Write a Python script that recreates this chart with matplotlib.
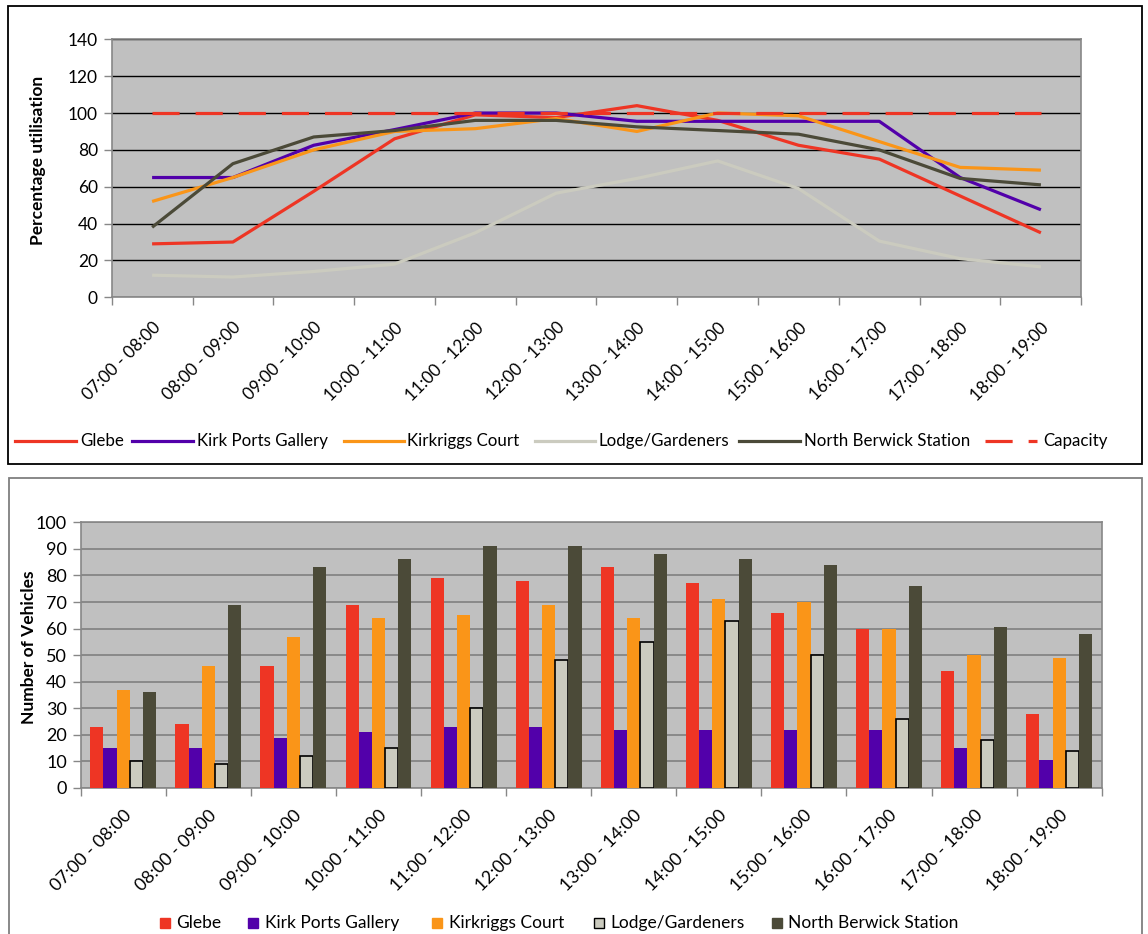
import matplotlib
matplotlib.use("Agg")
import matplotlib.pyplot as plt
import numpy as np
from matplotlib.lines import Line2D
from matplotlib.patches import Rectangle

plt.rcParams['font.family'] = ['Lato', 'DejaVu Sans']

# ---- data -------------------------------------------------------------
hours = ["07:00 - 08:00", "08:00 - 09:00", "09:00 - 10:00", "10:00 - 11:00",
         "11:00 - 12:00", "12:00 - 13:00", "13:00 - 14:00", "14:00 - 15:00",
         "15:00 - 16:00", "16:00 - 17:00", "17:00 - 18:00", "18:00 - 19:00"]

sites = ["Glebe", "Kirk Ports Gallery", "Kirkriggs Court",
         "Lodge/Gardeners", "North Berwick Station"]

# percentage utilisation by hour
pct_glebe = [29, 30, 57.5, 86, 99, 97.5, 104, 96, 82.5, 75, 55, 35]
pct_kirk_ports = [65, 65, 82.5, 91, 100, 100, 95.5, 95.5, 95.5, 95.5, 65, 47.5]
pct_kirkriggs = [52, 65, 80, 90, 91.5, 97, 90, 100, 98.5, 84.5, 70.5, 69]
pct_lodge = [12, 11, 14, 18, 35, 56.5, 64.5, 74, 59, 30.5, 21, 16.5]
pct_nb_station = [38, 72.5, 87, 90.5, 96, 96, 92.5, 90.5, 88.5, 80, 64.5, 61]
pct_capacity = [100] * 12

# number of parked vehicles by hour
veh_glebe = [23, 24, 46, 69, 79, 78, 83, 77, 66, 60, 44, 28]
veh_kirk_ports = [15, 15, 19, 21, 23, 23, 22, 22, 22, 22, 15, 10.5]
veh_kirkriggs = [37, 46, 57, 64, 65, 69, 64, 71, 70, 60, 50, 49]
veh_lodge = [10, 9, 12, 15, 30, 48, 55, 63, 50, 26, 18, 14]
veh_nb_station = [36, 69, 83, 86, 91, 91, 88, 86, 84, 76, 60.5, 58]

# ---- styling ------------------------------------------------------------
colors = {
    "Glebe": "#EE3524",
    "Kirk Ports Gallery": "#5200AA",
    "Kirkriggs Court": "#FA9518",
    "Lodge/Gardeners": "#CBCBBF",
    "North Berwick Station": "#4B4A38",
    "Capacity": "#EE3524",
}
PLOT_BG = "#C0C0C0"
AXIS_GREY = "#878787"

W, H = 1148, 934
fig = plt.figure(figsize=(W / 100, H / 100), dpi=100)


def px_axes(x0, y0, x1, y1):
    return fig.add_axes([x0 / W, 1 - y1 / H, (x1 - x0) / W, (y1 - y0) / H])


def fx(x):
    return x / W


def fy(y):
    return 1 - y / H


# panel frames
fig.add_artist(Rectangle((fx(8), fy(464)), (1142 - 8) / W, (464 - 6) / H,
                         transform=fig.transFigure, fill=False,
                         edgecolor="black", lw=1.3))
fig.add_artist(Rectangle((fx(9), fy(940)), (1142 - 9) / W, (940 - 478) / H,
                         transform=fig.transFigure, fill=False,
                         edgecolor="#7F7F7F", lw=1.3, clip_on=False))

x = np.arange(len(hours))

# ---- top: percentage utilisation ---------------------------------------
ax1 = px_axes(111.7, 39.3, 1081.3, 297.3)
ax1.set_facecolor(PLOT_BG)
line_series = [
    ("Glebe", pct_glebe),
    ("Kirk Ports Gallery", pct_kirk_ports),
    ("Kirkriggs Court", pct_kirkriggs),
    ("Lodge/Gardeners", pct_lodge),
    ("North Berwick Station", pct_nb_station),
]
for name, vals in line_series:
    ax1.plot(x, vals, color=colors[name], lw=2.3, zorder=3,
             solid_capstyle="butt")
ax1.plot(x, pct_capacity, color=colors["Capacity"], lw=2.3,
         dashes=(8.5, 5), zorder=4)

ax1.set_xlim(-0.5, len(hours) - 0.5)
ax1.set_ylim(0, 140)
ax1.set_yticks(np.arange(0, 141, 20))
ax1.yaxis.grid(True, color="black", lw=1.0)
ax1.set_axisbelow(True)
ax1.set_xticks(np.arange(-0.5, len(hours), 1.0))
ax1.set_xticklabels([])
ax1.set_xticks(x, minor=True)
ax1.set_xticklabels(hours, minor=True, rotation=45, ha="right", va="top",
                    rotation_mode="anchor", fontsize=12.3)
ax1.tick_params(axis="x", which="minor", length=0, pad=16)
ax1.tick_params(axis="x", which="major", length=6, color=AXIS_GREY, width=1)
ax1.tick_params(axis="y", length=6, color=AXIS_GREY, width=1, labelsize=12.5,
                pad=4)
for s in ax1.spines.values():
    s.set_color(AXIS_GREY)
    s.set_linewidth(1.2)
ax1.set_ylabel("Percentage utilisation", fontsize=12.5, fontweight="bold")
ax1.yaxis.set_label_coords(-0.068, 0.53)

# top legend (line samples)
leg_top = [
    ("Glebe", 15, 76, 80, "solid"),
    ("Kirk Ports Gallery", 132, 193, 197, "solid"),
    ("Kirkriggs Court", 344, 404, 407, "solid"),
    ("Lodge/Gardeners", 535, 595, 598, "solid"),
    ("North Berwick Station", 739, 800, 804, "solid"),
    ("Capacity", 985, 1037, 1043, "dash"),
]
ly = 441
for name, x0, x1, tx, style in leg_top:
    ln = Line2D([fx(x0), fx(x1)], [fy(ly), fy(ly)], transform=fig.transFigure,
                color=colors[name], lw=2.3)
    if style == "dash":
        ln.set_dashes((8.5, 5))
    fig.add_artist(ln)
    fig.text(fx(tx), fy(ly), name, fontsize=12.2, ha="left", va="center")

# ---- bottom: number of vehicles ----------------------------------------
ax2 = px_axes(80.7, 522.3, 1101.7, 788)
ax2.set_facecolor(PLOT_BG)
bar_series = [
    ("Glebe", veh_glebe),
    ("Kirk Ports Gallery", veh_kirk_ports),
    ("Kirkriggs Court", veh_kirkriggs),
    ("Lodge/Gardeners", veh_lodge),
    ("North Berwick Station", veh_nb_station),
]
bw = 0.155
for i, (name, vals) in enumerate(bar_series):
    offs = (i - 2) * bw
    if name == "Lodge/Gardeners":
        ax2.bar(x + offs, vals, bw, color=colors[name], edgecolor="black",
                lw=1.2, zorder=3)
    else:
        ax2.bar(x + offs, vals, bw, color=colors[name], lw=0, zorder=3)

ax2.set_xlim(-0.5, len(hours) - 0.5)
ax2.set_ylim(0, 100)
ax2.set_yticks(np.arange(0, 101, 10))
ax2.yaxis.grid(True, color="#808080", lw=1.2)
ax2.set_axisbelow(True)
ax2.set_xticks(np.arange(-0.5, len(hours), 1.0))
ax2.set_xticklabels([])
ax2.set_xticks(x, minor=True)
ax2.set_xticklabels(hours, minor=True, rotation=45, ha="right", va="top",
                    rotation_mode="anchor", fontsize=12.8)
ax2.tick_params(axis="x", which="minor", length=0, pad=14)
ax2.tick_params(axis="x", which="major", length=6, color=AXIS_GREY, width=1)
ax2.tick_params(axis="y", length=6, color=AXIS_GREY, width=1, labelsize=13,
                pad=4)
for s in ax2.spines.values():
    s.set_color(AXIS_GREY)
    s.set_linewidth(1.2)
ax2.set_ylabel("Number of Vehicles", fontsize=12.5, fontweight="bold")
ax2.yaxis.set_label_coords(-0.043, 0.53)

# bottom legend (squares)
leg_bot = [
    ("Glebe", 160, 176),
    ("Kirk Ports Gallery", 248, 265),
    ("Kirkriggs Court", 432, 449),
    ("Lodge/Gardeners", 594, 610),
    ("North Berwick Station", 772, 788),
]
by = 923
sq = 10
for name, sx, tx in leg_bot:
    edge = "black" if name == "Lodge/Gardeners" else colors[name]
    fig.add_artist(Rectangle((fx(sx), fy(by + sq / 2)), sq / W, sq / H,
                             transform=fig.transFigure,
                             facecolor=colors[name], edgecolor=edge, lw=1))
    fig.text(fx(tx), fy(by), name, fontsize=12.5, ha="left", va="center")

fig.savefig("out.png", dpi=100, facecolor="white")
